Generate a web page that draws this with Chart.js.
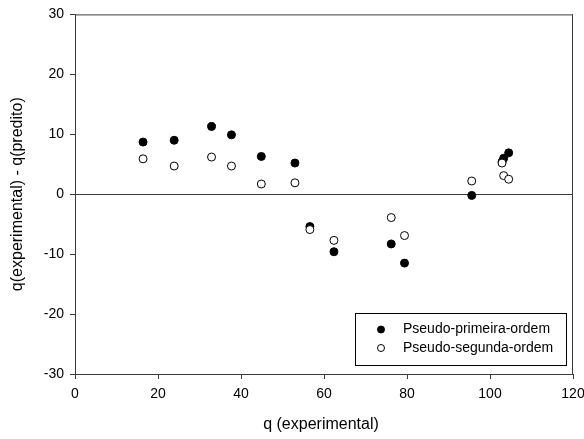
<!DOCTYPE html>
<html>
<head>
<meta charset="utf-8">
<script src="https://cdn.jsdelivr.net/npm/chart.js@4/dist/chart.umd.min.js"></script>
<style>
  html, body { margin: 0; padding: 0; background: #fff; }
  #wrap { width: 584px; height: 439px; }
</style>
</head>
<body>
<div id="wrap"><canvas id="c" width="584" height="439"></canvas></div>
<script>
// q (experimental) for each run
const qExp = [16.4, 23.9, 32.9, 37.7, 44.9, 53.0, 56.6, 62.4, 76.2, 79.4, 95.6, 102.9, 103.3, 104.5];
// residuals q(experimental) - q(predito)
const residPrimeira = [8.7, 9.0, 11.3, 9.9, 6.3, 5.2, -5.4, -9.6, -8.3, -11.5, -0.2, 5.4, 6.0, 6.9];
const residSegunda = [5.9, 4.7, 6.2, 4.7, 1.7, 1.9, -5.9, -7.7, -3.9, -6.9, 2.2, 5.2, 3.1, 2.5];
const seriesNames = ["Pseudo-primeira-ordem", "Pseudo-segunda-ordem"];
const xTitle = "q (experimental)";
const yTitle = "q(experimental) - q(predito)";

const FONT = "'Liberation Sans', Arial, sans-serif";
const AXIS_COLOR = "#3c3c3c";

const toPoints = (ys) => qExp.map((x, i) => ({ x, y: ys[i] }));

// frame on top/right, zero line, axis titles and the boxed legend
const decorations = {
    id: "decorations",
    beforeDatasetsDraw(chart) {
        const { ctx, chartArea: a, scales } = chart;
        ctx.save();
        ctx.strokeStyle = AXIS_COLOR;
        ctx.lineWidth = 1;
        ctx.beginPath();
        ctx.moveTo(a.left, a.top + 0.5);
        ctx.lineTo(a.right, a.top + 0.5);
        ctx.moveTo(a.right - 0.5, a.top);
        ctx.lineTo(a.right - 0.5, a.bottom);
        const y0 = Math.round(scales.y.getPixelForValue(0)) + 0.5;
        ctx.moveTo(a.left, y0);
        ctx.lineTo(a.right, y0);
        ctx.stroke();
        ctx.restore();
    },
    afterDraw(chart) {
        const { ctx, chartArea: a } = chart;
        ctx.save();
        ctx.fillStyle = "#000";
        ctx.font = "16px " + FONT;
        ctx.textAlign = "center";
        ctx.textBaseline = "middle";
        ctx.fillText(xTitle, (a.left + a.right) / 2 - 3, 425);
        ctx.translate(18, (a.top + a.bottom) / 2);
        ctx.rotate(-Math.PI / 2);
        ctx.fillText(yTitle, 0, 0);
        ctx.restore();

        // legend box, first series on top
        const bx = 355.5, by = 313.5, bw = 211, bh = 52;
        ctx.save();
        ctx.fillStyle = "#fff";
        ctx.fillRect(bx, by, bw, bh);
        ctx.strokeStyle = "#000";
        ctx.lineWidth = 1;
        ctx.strokeRect(bx, by, bw, bh);
        ctx.font = "14px " + FONT;
        ctx.textBaseline = "middle";
        ctx.textAlign = "left";
        seriesNames.forEach((name, i) => {
            const ds = chart.data.datasets.find((d) => d.label === name);
            const cy = 329.5 + i * 18.5;
            ctx.beginPath();
            ctx.arc(381, cy, 3.5, 0, Math.PI * 2);
            ctx.fillStyle = ds.backgroundColor;
            ctx.fill();
            ctx.strokeStyle = ds.borderColor;
            ctx.stroke();
            ctx.fillStyle = "#000";
            ctx.fillText(name, 403, cy);
        });
        ctx.restore();
    },
};

new Chart(document.getElementById("c"), {
    type: "scatter",
    data: {
        // dataset 0 is painted last, so the open circles sit over the filled ones
        datasets: [
            {
                label: seriesNames[1],
                data: toPoints(residSegunda),
                backgroundColor: "#ffffff",
                borderColor: "#000000",
                borderWidth: 1,
                pointRadius: 4,
            },
            {
                label: seriesNames[0],
                data: toPoints(residPrimeira),
                backgroundColor: "#000000",
                borderColor: "#000000",
                borderWidth: 1,
                pointRadius: 4,
            },
        ],
    },
    options: {
        responsive: false,
        animation: false,
        layout: { padding: { top: 14, right: 0, left: 0, bottom: 0 } },
        plugins: {
            legend: { display: false },
            tooltip: { enabled: false },
        },
        scales: {
            x: {
                type: "linear",
                min: 0,
                max: 120,
                afterFit: (s) => { s.height = 65; s.paddingRight = 11; },
                border: { display: true, color: AXIS_COLOR, width: 1 },
                grid: { drawOnChartArea: false, drawTicks: true, tickLength: 5, color: AXIS_COLOR },
                ticks: { stepSize: 20, color: "#000", font: { family: FONT, size: 14 }, padding: 7, maxRotation: 0 },
            },
            y: {
                type: "linear",
                min: -30,
                max: 30,
                afterFit: (s) => { s.width = 75; },
                border: { display: true, color: AXIS_COLOR, width: 1 },
                grid: { drawOnChartArea: false, drawTicks: true, tickLength: 5, color: AXIS_COLOR },
                ticks: { stepSize: 10, color: "#000", font: { family: FONT, size: 14 }, padding: 6 },
            },
        },
    },
    plugins: [decorations],
});
</script>
</body>
</html>
